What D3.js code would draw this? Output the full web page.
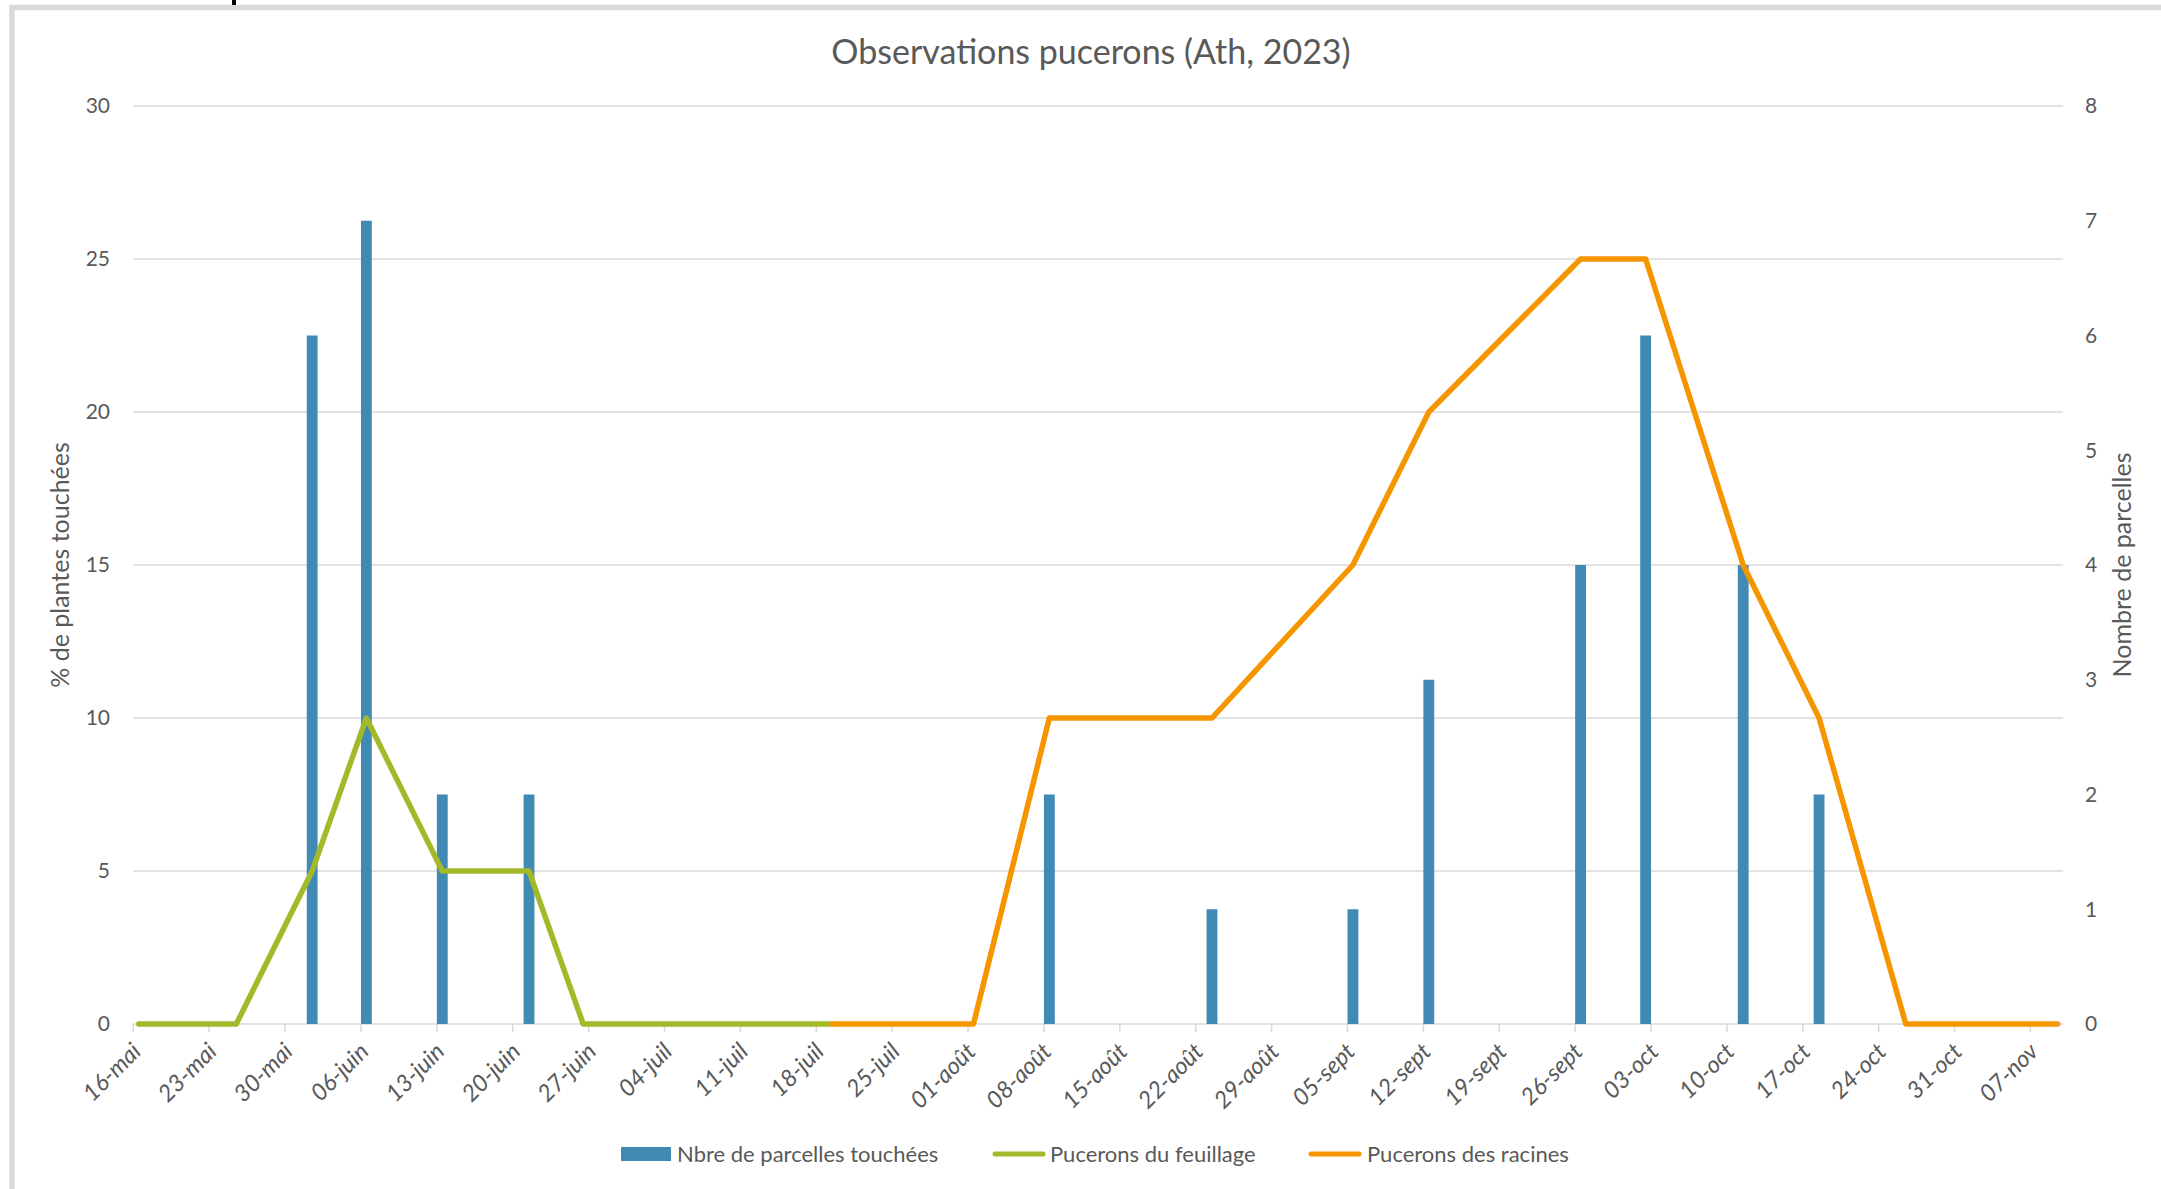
<!DOCTYPE html>
<html>
<head>
<meta charset="utf-8">
<script src="https://cdn.jsdelivr.net/npm/d3@7/dist/d3.min.js"></script>
<style>
  html, body { margin: 0; padding: 0; background: #ffffff; }
  svg { display: block; }
  text { font-family: Lato, "Open Sans", sans-serif; fill: #595959; }
</style>
</head>
<body>
<svg id="chart" width="2161" height="1189"></svg>
<script>
// ---------------- DATA ----------------
const chartTitle = "Observations pucerons (Ath, 2023)";
const leftAxisTitle = "% de plantes touchées";
const rightAxisTitle = "Nombre de parcelles";

const barDates  = ["2023-06-01","2023-06-06","2023-06-13","2023-06-21","2023-08-08","2023-08-23","2023-09-05","2023-09-12","2023-09-26","2023-10-02","2023-10-11","2023-10-18"];
const barValues = [6, 7, 2, 2, 2, 1, 1, 3, 4, 6, 4, 2];

const foliageDates  = ["2023-05-16","2023-05-25","2023-06-01","2023-06-06","2023-06-13","2023-06-21","2023-06-26","2023-07-19"];
const foliageValues = [0, 0, 5, 10, 5, 5, 0, 0];

const rootDates  = ["2023-07-19","2023-08-01","2023-08-08","2023-08-23","2023-09-05","2023-09-12","2023-09-26","2023-10-02","2023-10-11","2023-10-18","2023-10-26","2023-11-09"];
const rootValues = [0, 0, 10, 10, 15, 20, 25, 25, 15, 10, 0, 0];

const tickDates  = ["2023-05-16","2023-05-23","2023-05-30","2023-06-06","2023-06-13","2023-06-20","2023-06-27","2023-07-04","2023-07-11","2023-07-18","2023-07-25","2023-08-01","2023-08-08","2023-08-15","2023-08-22","2023-08-29","2023-09-05","2023-09-12","2023-09-19","2023-09-26","2023-10-03","2023-10-10","2023-10-17","2023-10-24","2023-10-31","2023-11-07"];
const tickLabels = ["16-mai","23-mai","30-mai","06-juin","13-juin","20-juin","27-juin","04-juil","11-juil","18-juil","25-juil","01-août","08-août","15-août","22-août","29-août","05-sept","12-sept","19-sept","26-sept","03-oct","10-oct","17-oct","24-oct","31-oct","07-nov"];

const leftTicks  = [0, 5, 10, 15, 20, 25, 30];
const rightTicks = [0, 1, 2, 3, 4, 5, 6, 7, 8];

const seriesNames  = ["Nbre de parcelles touchées", "Pucerons du feuillage", "Pucerons des racines"];
const seriesColors = ["#418ab4", "#a4b92a", "#f59600"];

// ---------------- LAYOUT ----------------
const W = 2161, H = 1189;
const plot = { left: 133.3, right: 2063, top: 106, bottom: 1024 };
const parse = d3.utcParse("%Y-%m-%d");
const dayMs = 86400000;

const x = d3.scaleUtc()
  .domain([parse("2023-05-16"), parse("2023-11-10")])
  .range([plot.left, plot.right]);
const dayW = x(new Date(parse("2023-05-16").getTime() + dayMs)) - x(parse("2023-05-16"));
const xc = s => x(new Date(parse(s).getTime() + dayMs / 2)); // centre of the day slot

const yL = d3.scaleLinear().domain([0, 30]).range([plot.bottom, plot.top]);
const yR = d3.scaleLinear().domain([0, 8]).range([plot.bottom, plot.top]);

const svg = d3.select("#chart");
svg.append("rect").attr("width", W).attr("height", H).attr("fill", "#fff");

// frame (cropped chart border)
svg.append("path")
  .attr("d", `M12,${H} L12,7.5 L${W},7.5`)
  .attr("fill", "none").attr("stroke", "#d9d9d9").attr("stroke-width", 5.5);
svg.append("rect").attr("x", 232).attr("y", 0).attr("width", 4).attr("height", 5).attr("fill", "#000");

// title
svg.append("text")
  .attr("x", 1091).attr("y", 64)
  .attr("text-anchor", "middle")
  .style("font-size", "34px")
  .text(chartTitle);

// gridlines
const grid = svg.append("g");
grid.selectAll("line").data(leftTicks).join("line")
  .attr("x1", plot.left).attr("x2", plot.right)
  .attr("y1", d => yL(d)).attr("y2", d => yL(d))
  .attr("stroke", "#d9d9d9").attr("stroke-width", 1.5);

// x axis ticks + labels
const xTickData = tickDates.map((d, i) => ({ date: parse(d), label: tickLabels[i] }));
const xAxis = svg.append("g");
xAxis.selectAll("line").data(xTickData).join("line")
  .attr("x1", d => x(d.date)).attr("x2", d => x(d.date))
  .attr("y1", plot.bottom).attr("y2", plot.bottom + 8)
  .attr("stroke", "#d9d9d9").attr("stroke-width", 1.5);
xAxis.selectAll("text").data(xTickData).join("text")
  .attr("transform", d => `translate(${x(d.date) + 9},${plot.bottom + 29}) rotate(-45)`)
  .attr("text-anchor", "end")
  .style("font-size", "23.5px")
  .style("font-style", "italic")
  .text(d => d.label);

// left axis labels
svg.append("g").selectAll("text").data(leftTicks).join("text")
  .attr("x", 110).attr("y", d => yL(d)).attr("dy", "0.35em")
  .attr("text-anchor", "end")
  .style("font-size", "21px")
  .text(d => d);

// right axis labels
svg.append("g").selectAll("text").data(rightTicks).join("text")
  .attr("x", 2085).attr("y", d => yR(d)).attr("dy", "0.35em")
  .attr("text-anchor", "start")
  .style("font-size", "21px")
  .text(d => d);

// axis titles
svg.append("text")
  .attr("transform", `translate(69,${(plot.top + plot.bottom) / 2}) rotate(-90)`)
  .attr("text-anchor", "middle")
  .style("font-size", "25px")
  .text(leftAxisTitle);
svg.append("text")
  .attr("transform", `translate(2131,${(plot.top + plot.bottom) / 2}) rotate(-90)`)
  .attr("text-anchor", "middle")
  .style("font-size", "25px")
  .text(rightAxisTitle);

// bars (right axis)
const barData = barDates.map((d, i) => ({ date: d, value: barValues[i] }));
svg.append("g").selectAll("rect").data(barData).join("rect")
  .attr("x", d => xc(d.date) - dayW / 2)
  .attr("width", dayW)
  .attr("y", d => yR(d.value))
  .attr("height", d => yR(0) - yR(d.value))
  .attr("fill", seriesColors[0]);

// lines (left axis)
const line = d3.line().x(d => xc(d.date)).y(d => yL(d.value));
const foliage = foliageDates.map((d, i) => ({ date: d, value: foliageValues[i] }));
const roots = rootDates.map((d, i) => ({ date: d, value: rootValues[i] }));
svg.append("path").datum(foliage).attr("d", line)
  .attr("fill", "none").attr("stroke", seriesColors[1]).attr("stroke-width", 5.5)
  .attr("stroke-linejoin", "round").attr("stroke-linecap", "round");
svg.append("path").datum(roots).attr("d", line)
  .attr("fill", "none").attr("stroke", seriesColors[2]).attr("stroke-width", 5.5)
  .attr("stroke-linejoin", "round").attr("stroke-linecap", "round");

// legend
const legendY = 1154;
const legend = svg.append("g");
const legendItems = [
  { name: seriesNames[0], color: seriesColors[0], type: "bar",  sx: 621, tx: 677 },
  { name: seriesNames[1], color: seriesColors[1], type: "line", sx: 995, tx: 1050 },
  { name: seriesNames[2], color: seriesColors[2], type: "line", sx: 1311, tx: 1367 }
];
legendItems.forEach(it => {
  if (it.type === "bar") {
    legend.append("rect").attr("x", it.sx).attr("y", legendY - 7).attr("width", 50).attr("height", 14).attr("fill", it.color);
  } else {
    legend.append("line").attr("x1", it.sx).attr("x2", it.sx + 48)
      .attr("y1", legendY).attr("y2", legendY)
      .attr("stroke", it.color).attr("stroke-width", 5).attr("stroke-linecap", "round");
  }
  legend.append("text").attr("x", it.tx).attr("y", legendY).attr("dy", "0.35em")
    .style("font-size", "22px").text(it.name);
});
</script>
</body>
</html>
